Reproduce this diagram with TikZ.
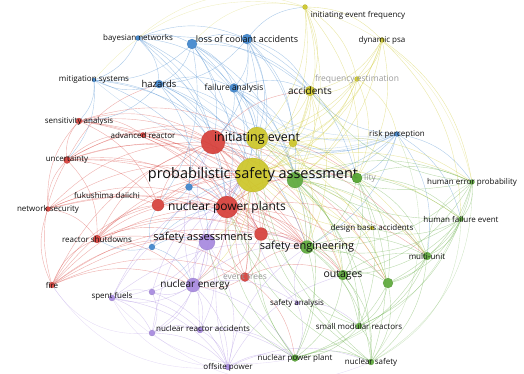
\documentclass[tikz,border=0pt]{standalone}
\usepackage{fontspec}
\setmainfont{Open Sans}
\usetikzlibrary{backgrounds}
\definecolor{vred}{RGB}{214,62,56}
\definecolor{vgreen}{RGB}{92,168,58}
\definecolor{vblue}{RGB}{62,132,204}
\definecolor{vyellow}{RGB}{204,198,40}
\definecolor{vpurple}{RGB}{166,136,222}
\definecolor{labelc}{RGB}{15,15,15}
\tikzset{
  dot/.style={circle,inner sep=0pt,minimum size=#1,fill opacity=0.92,draw opacity=0.6,line width=0.3pt},
  rdot/.style={dot=#1,fill=vred,draw=vred!80!black},
  gdot/.style={dot=#1,fill=vgreen,draw=vgreen!80!black},
  bdot/.style={dot=#1,fill=vblue,draw=vblue!80!black},
  ydot/.style={dot=#1,fill=vyellow,draw=vyellow!80!black},
  pdot/.style={dot=#1,fill=vpurple,draw=vpurple!80!black},
  lab/.style={inner sep=0pt,text=labelc,font=\fontsize{#1}{#1}\selectfont},
  faint/.style={inner sep=0pt,text=black!40,font=\fontsize{#1}{#1}\selectfont},
  link/.style={line width=0.4pt,draw opacity=0.42,bend left=22},
  farlink/.style={line width=0.35pt,draw opacity=0.3,bend left=30},
}
\begin{document}
\begin{tikzpicture}[x=1pt,y=-1pt]
\useasboundingbox (0,0) rectangle (524,373);

% ---- yellow cluster
\node[ydot=34] (pse) at (253,175) {};
\node[ydot=22] (ie) at (257,138) {};
\node[ydot=8] (iesm) at (293,143) {};
\node[ydot=10] (acc) at (310,91) {};
\node[ydot=5] (ief) at (305,7) {};
\node[ydot=5] (dpsa) at (382,40) {};
\node[ydot=5] (fe) at (357,79) {};
\node[ydot=4] (dba) at (372,228) {};
% ---- red cluster
\node[rdot=24] (ie2) at (213,142) {};
\node[rdot=22] (npps) at (227,207) {};
\node[rdot=12] (r3) at (158,205) {};
\node[rdot=13] (r4) at (261,234) {};
\node[rdot=9] (et) at (245,277) {};
\node[rdot=5] (ar) at (143,135) {};
\node[rdot=7] (unc) at (67,160) {};
\node[rdot=6] (sens) at (79,121) {};
\node[rdot=5] (nsec) at (48,209) {};
\node[rdot=8] (rs) at (97,239) {};
\node[rdot=6] (fire) at (52,285) {};
% ---- blue cluster
\node[bdot=5] (bn) at (138,38) {};
\node[bdot=10] (b1) at (192,44) {};
\node[bdot=10] (loca) at (247,39) {};
\node[bdot=8] (haz) at (159,84) {};
\node[bdot=4] (mit) at (94,80) {};
\node[bdot=9] (fa) at (234,88) {};
\node[bdot=5] (rp) at (397,134) {};
\node[bdot=7] (b2) at (189,187) {};
\node[bdot=6] (b3) at (152,247) {};
% ---- green cluster
\node[gdot=16] (g1) at (295,180) {};
\node[gdot=10] (g2) at (357,178) {};
\node[gdot=5] (hep) at (472,182) {};
\node[gdot=5] (hfe) at (461,219) {};
\node[gdot=13] (seng) at (307,247) {};
\node[gdot=10] (out) at (343,275) {};
\node[gdot=8] (mu) at (427,256) {};
\node[gdot=10] (g3) at (388,283) {};
\node[gdot=6] (smr) at (359,326) {};
\node[gdot=7] (nplant) at (295,358) {};
\node[gdot=6] (nsaf) at (371,362) {};
% ---- purple cluster
\node[pdot=16] (sasm) at (207,242) {};
\node[pdot=14] (ne) at (193,285) {};
\node[pdot=6] (sf) at (112,298) {};
\node[pdot=6] (p1) at (152,292) {};
\node[pdot=6] (nra) at (152,333) {};
\node[pdot=6] (p2) at (200,330) {};
\node[pdot=6] (op) at (228,367) {};
\node[pdot=4] (sanal) at (297,303) {};

\begin{scope}[on background layer]
% red links
\foreach \a/\b in {fire/rs,fire/nsec,fire/unc,fire/npps,fire/ie2,fire/r4,fire/pse,fire/sasm,fire/et,fire/ne,fire/r3,fire/seng,
  nsec/unc,nsec/rs,nsec/r3,nsec/npps,nsec/ie2,nsec/pse,nsec/sens,nsec/r4,nsec/seng,
  unc/sens,unc/ie2,unc/npps,unc/pse,unc/r3,unc/ie,unc/rs,unc/r4,unc/haz,unc/seng,unc/ar,unc/g1,
  sens/ie2,sens/pse,sens/npps,sens/ar,sens/ie,sens/r3,sens/r4,sens/seng,
  ar/ie2,ar/pse,ar/npps,ar/seng,ar/r4,
  rs/r3,rs/npps,rs/ie2,rs/pse,rs/r4,rs/sasm,rs/seng,rs/et,rs/ne,
  r3/npps,r3/ie2,r3/pse,r3/seng,r3/r4,r3/g1,
  ie2/npps,ie2/pse,ie2/ie,ie2/acc,ie2/r4,ie2/g1,ie2/seng,ie2/et,ie2/out,ie2/g2,ie2/g3,ie2/mu,
  npps/pse,npps/r4,npps/et,npps/seng,npps/out,npps/g1,npps/ne,npps/g3,npps/mu,npps/g2,
  r4/pse,r4/seng,r4/et,r4/ne,r4/out,r4/g1,
  et/pse,et/seng,et/ne,et/nplant,et/out,et/npps}
  \draw[link,vred] (\a) to (\b);
% blue links
\foreach \a/\b in {bn/b1,bn/haz,bn/loca,bn/fa,bn/pse,bn/ie2,bn/mit,bn/npps,bn/acc,
  b1/loca,b1/haz,b1/fa,b1/pse,b1/ie2,b1/ie,b1/npps,b1/acc,b1/g1,b1/mit,b1/r3,
  loca/fa,loca/ie,loca/pse,loca/acc,loca/haz,loca/npps,loca/g1,loca/ief,loca/g2,loca/ie2,loca/iesm,
  haz/mit,haz/fa,haz/pse,haz/ie2,haz/npps,haz/b2,haz/seng,haz/ie,haz/sens,
  mit/ie2,mit/pse,mit/sens,mit/npps,mit/unc,
  fa/pse,fa/ie,fa/ie2,fa/npps,fa/acc,fa/g1,fa/seng,fa/iesm,
  rp/pse,rp/g1,rp/g2,rp/ie,rp/hep,rp/hfe,rp/mu,rp/seng,rp/iesm,rp/acc,
  b2/pse,b2/npps,b2/r3,b2/ie2,b2/sasm,
  b3/sasm,b3/ne,b3/npps,b3/pse,b3/rs,b3/r3}
  \draw[link,vblue] (\a) to (\b);
\foreach \a/\b in {rp/bn,rp/mit,rp/haz,rp/b1,rp/fa}
  \draw[farlink,vblue] (\a) to (\b);
% yellow links
\foreach \a/\b in {ief/acc,ief/ie,ief/pse,ief/dpsa,ief/fe,ief/g1,ief/iesm,ief/g2,
  dpsa/pse,dpsa/ie,dpsa/acc,dpsa/fe,dpsa/g1,dpsa/g2,dpsa/hep,dpsa/iesm,dpsa/hfe,
  fe/pse,fe/ie,fe/acc,fe/g1,fe/g2,fe/iesm,fe/rp,
  acc/pse,acc/ie,acc/g1,acc/iesm,acc/npps,acc/seng,acc/g2,
  ie/pse,ie/iesm,ie/g1,ie/g2,ie/npps,ie/seng,ie/out,ie/mu,ie/g3,
  pse/g1,pse/seng,pse/out,pse/hep,pse/hfe,pse/mu,pse/dba,pse/g3,pse/ne,pse/sasm,pse/g2,
  iesm/pse,iesm/g2,iesm/g1,iesm/seng,iesm/hep,dba/g1,dba/seng,dba/pse}
  \draw[link,vyellow] (\a) to (\b);
\foreach \a/\b in {bn/ief,b1/ief,mit/ief,ief/hep}
  \draw[farlink,vyellow] (\a) to (\b);
% green links
\foreach \a/\b in {g1/g2,g1/seng,g1/out,g1/hep,g1/hfe,g1/mu,g1/g3,g1/dba,g1/smr,g1/nplant,g1/nsaf,
  g2/hep,g2/hfe,g2/mu,g2/seng,g2/out,g2/g3,g2/smr,g2/nsaf,
  hep/hfe,hep/mu,hep/g3,hep/out,hep/seng,hep/ie,hep/acc,
  hfe/mu,hfe/g3,hfe/out,hfe/seng,hfe/dba,hfe/ie,hfe/smr,
  seng/out,seng/g3,seng/smr,seng/nplant,seng/nsaf,seng/mu,
  out/g3,out/smr,out/nplant,out/nsaf,out/mu,
  mu/g3,mu/smr,mu/nsaf,mu/nplant,
  g3/smr,g3/nplant,g3/nsaf,
  smr/nplant,smr/nsaf,smr/pse,smr/npps,
  nplant/nsaf,nplant/pse,nplant/npps,nplant/sasm,nplant/r4,
  nsaf/pse,nsaf/ie,nsaf/npps}
  \draw[link,vgreen] (\a) to (\b);
\foreach \a/\b in {hep/nsaf,hfe/nsaf,hep/nplant,mu/hep,rp/nsaf}
  \draw[farlink,vgreen] (\a) to (\b);
% purple links
\foreach \a/\b in {sasm/ne,sasm/pse,sasm/npps,sasm/ie2,sasm/seng,sasm/sf,sasm/nra,sasm/op,sasm/p1,sasm/p2,
  ne/sf,ne/nra,ne/op,ne/p1,ne/p2,ne/seng,ne/pse,ne/npps,ne/sanal,ne/nplant,ne/ie2,
  sf/p1,sf/nra,sf/op,sf/p2,sf/npps,sf/pse,sf/seng,
  p1/nra,p1/op,p1/pse,
  nra/op,nra/p2,nra/nplant,nra/pse,
  p2/op,p2/nplant,p2/pse,
  op/nplant,op/nsaf,op/seng,op/pse,op/out,
  sanal/pse,sanal/seng,sanal/nplant,sanal/smr}
  \draw[link,vpurple] (\a) to (\b);
\foreach \a/\b in {op/sf,nra/fire,op/fire,nplant/sf,nsaf/nra}
  \draw[farlink,vpurple] (\a) to (\b);
\end{scope}

% ---- labels
\node[faint=8.5] (fe-l) at (fe) {frequency estimation};
\node[faint=8.5] (et-l) at (et) {event trees};
\node[faint=8.5,anchor=west] (g2-l) at (364,178) {lity};
\node[lab=14.5] (pse-l) at (pse) {probabilistic safety assessment};
\node[lab=12.5] (ie-l) at (ie) {initiating event};
\node[lab=10] (acc-l) at (acc) {accidents};
\node[lab=8] (ief-l) at (358,15) {initiating event frequency};
\node[lab=8] (dpsa-l) at (dpsa) {dynamic psa};
\node[lab=8] (dba-l) at (dba) {design basis accidents};
\node[lab=12] (npps-l) at (npps) {nuclear power plants};
\node[lab=8] (ar-l) at (ar) {advanced reactor};
\node[lab=8] (unc-l) at (unc) {uncertainty};
\node[lab=8] (sens-l) at (sens) {sensitivity analysis};
\node[lab=8] (fk-l) at (107,195) {fukushima daiichi};
\node[lab=8] (nsec-l) at (nsec) {network security};
\node[lab=8] (rs-l) at (rs) {reactor shutdowns};
\node[lab=8] (fire-l) at (fire) {fire};
\node[lab=8] (bn-l) at (bn) {bayesian networks};
\node[lab=9] (loca-l) at (loca) {loss of coolant accidents};
\node[lab=9.5] (haz-l) at (haz) {hazards};
\node[lab=8] (mit-l) at (mit) {mitigation systems};
\node[lab=8.5] (fa-l) at (fa) {failure analysis};
\node[lab=8] (rp-l) at (rp) {risk perception};
\node[lab=8] (hep-l) at (hep) {human error probability};
\node[lab=8] (hfe-l) at (hfe) {human failure event};
\node[lab=11] (seng-l) at (seng) {safety engineering};
\node[lab=10.5] (out-l) at (out) {outages};
\node[lab=8] (mu-l) at (mu) {multi-unit};
\node[lab=8] (smr-l) at (smr) {small modular reactors};
\node[lab=8] (nplant-l) at (nplant) {nuclear power plant};
\node[lab=8] (nsaf-l) at (nsaf) {nuclear safety};
\node[lab=11] (sasm-l) at (203,238) {safety assessments};
\node[lab=10] (ne-l) at (195,285) {nuclear energy};
\node[lab=8] (sf-l) at (112,296) {spent fuels};
\node[lab=8] (nra-l) at (203,328) {nuclear reactor accidents};
\node[lab=8] (op-l) at (op) {offsite power};
\node[lab=8] (sanal-l) at (sanal) {safety analysis};
% the green dot sits over the end of the large label
\node[gdot=10] (g2-top) at (g2) {};
\end{tikzpicture}
\end{document}
